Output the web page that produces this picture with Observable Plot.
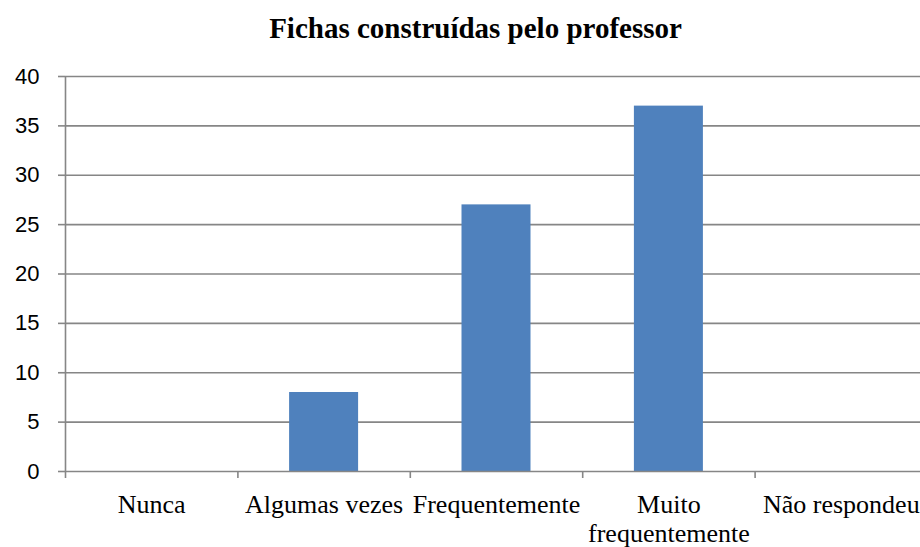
<!DOCTYPE html>
<html><head><meta charset="utf-8">
<script src="https://cdn.jsdelivr.net/npm/d3@7"></script>
<script src="https://cdn.jsdelivr.net/npm/@observablehq/plot@0.6"></script>
<style>body{margin:0;overflow:hidden;background:#fff} svg{max-width:none !important}</style>
</head><body><div id="chart"></div>
<script>
const title = "Fichas construídas pelo professor";
const categories = ["Nunca", "Algumas vezes", "Frequentemente", "Muito frequentemente", "Não respondeu"];
const tickLabels = ["Nunca", "Algumas vezes", "Frequentemente", "Muito\nfrequentemente", "Não respondeu"];
const values = [0, 8, 27, 37, 0];
const yTicks = [0, 5, 10, 15, 20, 25, 30, 35, 40];

const data = categories.map((c, i) => ({cat: c, i, value: values[i], label: tickLabels[i]}));
const bounds = d3.range(categories.length + 1);
const axisColor = "#868686";

const chart = Plot.plot({
  width: 927, height: 547,
  marginLeft: 65, marginRight: 0, marginTop: 76, marginBottom: 76,
  style: {maxWidth: "none"},
  x: {type: "linear", domain: [0, categories.length], axis: null},
  y: {domain: [0, 40], axis: null},
  marks: [
    Plot.ruleY(yTicks.filter(d => d > 0), {stroke: axisColor, strokeWidth: 1.6}),
    Plot.rectY(data, {x1: d => d.i, x2: d => d.i + 1, y: "value", fill: "#4F81BD", insetLeft: 51.7, insetRight: 51.7}),
    Plot.ruleY([0], {stroke: axisColor, strokeWidth: 1.6}),
    Plot.ruleX([0], {y1: 0, y2: 40, stroke: axisColor, strokeWidth: 1.6}),
    Plot.axisY({ticks: yTicks, label: null, tickSize: 7, tickPadding: 19, stroke: axisColor, strokeWidth: 1.6, fontSize: 22, fontFamily: "Liberation Sans, Arial, sans-serif", fill: "#000", tickFormat: d => d}),
    Plot.axisX({ticks: bounds, label: null, tickSize: 7, stroke: axisColor, strokeWidth: 1.6, tickFormat: () => ""}),
    Plot.text(data, {x: d => d.i + 0.5, frameAnchor: "bottom", text: "label", lineAnchor: "top", dy: 22, fontSize: 26, lineHeight: 1.08, fontFamily: "Liberation Serif, Times New Roman, serif", fill: "#000"}),
    Plot.text([title], {frameAnchor: "top", lineAnchor: "top", dy: -58.6, dx: -21, fontSize: 29, fontWeight: "bold", fontFamily: "Liberation Serif, Times New Roman, serif", fill: "#000"})
  ]
});
document.getElementById("chart").appendChild(chart);
</script>
</body></html>
